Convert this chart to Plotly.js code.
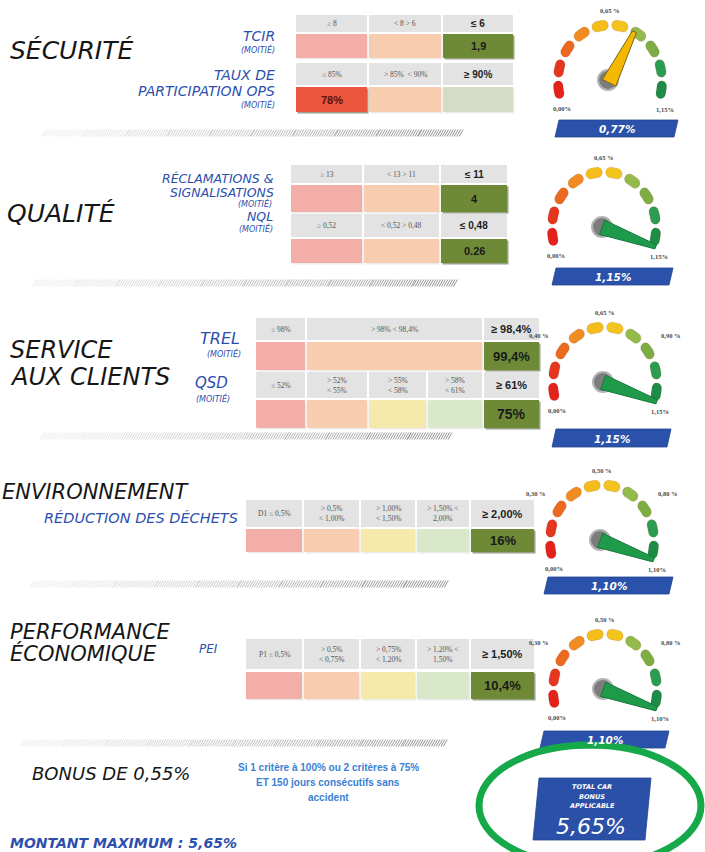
<!DOCTYPE html>
<html><head><meta charset="utf-8">
<script src="https://cdn.plot.ly/plotly-3.0.1.min.js"></script>
<style>html,body{margin:0;padding:0;background:#fff;overflow:hidden}</style>
</head><body><div id="chart" style="width:705px;height:852px"></div>
<script>
// ================= DATA =================
const sectionTitles = ['SÉCURITÉ', 'QUALITÉ', 'SERVICE', 'AUX CLIENTS', 'ENVIRONNEMENT', 'PERFORMANCE', 'ÉCONOMIQUE'];
const criteriaNames = ['TCIR', 'TAUX DE', 'PARTICIPATION OPS', 'RÉCLAMATIONS &', 'SIGNALISATIONS', 'NQL', 'TREL', 'QSD', 'RÉDUCTION DES DÉCHETS', 'PEI'];
const halfWeightLabel = '(MOITIÉ)';

const tcirBands = ['≥ 8', '< 8 > 6', '≤ 6'];
const tcirResult = '1,9'; const tcirTier = 2;
const tauxBands = ['≤ 85%', '> 85%  < 90%', '≥ 90%'];
const tauxResult = '78%'; const tauxTier = 0;
const reclamBands = ['≥ 13', '< 13 > 11', '≤ 11'];
const reclamResult = '4'; const reclamTier = 2;
const nqlBands = ['≥ 0,52', '< 0,52 > 0,48', '≤ 0,48'];
const nqlResult = '0.26'; const nqlTier = 2;
const trelBands = ['≤ 98%', '> 98% < 98,4%', '≥ 98,4%'];
const trelResult = '99,4%'; const trelTier = 2;
const qsdBands = ['≤ 52%', '> 52%<br>< 55%', '> 55%<br>< 58%', '> 58%<br>< 61%', '≥ 61%'];
const qsdResult = '75%'; const qsdTier = 4;
const dechetsBands = ['D1 ≤ 0,5%', '> 0,5%<br>< 1,00%', '> 1,00%<br>< 1,50%', '> 1,50% <<br>2,00%', '≥ 2,00%'];
const dechetsResult = '16%'; const dechetsTier = 4;
const peiBands = ['P1 ≤ 0,5%', '> 0,5%<br>< 0,75%', '> 0,75%<br>< 1,20%', '> 1,20% <<br>1,50%', '≥ 1,50%'];
const peiResult = '10,4%'; const peiTier = 4;

const gaugeValues = [0.77, 1.15, 1.15, 1.10, 1.10];
const gaugeValueLabels = ['0,77%', '1,15%', '1,15%', '1,10%', '1,10%'];
const gaugeScaleSteps = [[0, 0.65, 1.15], [0, 0.65, 1.15], [0, 0.40, 0.65, 0.90, 1.15], [0, 0.30, 0.50, 0.80, 1.10], [0, 0.30, 0.50, 0.80, 1.10]];
const gaugeScaleLabels = [
  ['0,00%', '0,65 %', '1,15%'],
  ['0,00%', '0,65 %', '1,15%'],
  ['0,00%', '0,40 %', '0,65 %', '0,90 %', '1,15%'],
  ['0,00%', '0,30 %', '0,50 %', '0,80 %', '1,10%'],
  ['0,00%', '0,30 %', '0,50 %', '0,80 %', '1,10%']
];

const bonusTitle = 'BONUS DE 0,55%';
const bonusRule = ['Si 1 critère à 100% ou 2 critères à 75%', 'ET 150 jours consécutifs sans', 'accident'];
const maxAmountLabel = 'MONTANT MAXIMUM : 5,65%';
const totalLabel = ['TOTAL CAR', 'BONUS', 'APPLICABLE'];
const totalValue = '5,65%';

// ================= LAYOUT / STYLE =================
const BLUE = '#2c4fae';
const TITLE_FONT = 'DejaVu Sans';
const shapes = [], annotations = [], traces = [];

function txt(x, y, text, o) {
  o = o || {};
  annotations.push({
    x: x, y: y, xref: 'x', yref: 'y', text: text, showarrow: false,
    xanchor: o.anchor || 'center', yanchor: 'middle', align: o.align || 'center',
    font: { family: o.family || 'Liberation Sans', size: o.size || 10, color: o.color || '#222',
            style: o.italic ? 'italic' : 'normal', weight: o.bold ? 'bold' : 'normal' }
  });
}
function rect(x0, y0, x1, y1, fill) {
  shapes.push({ type: 'rect', xref: 'x', yref: 'y', x0: x0, x1: x1, y0: y0, y1: y1, fillcolor: fill, line: { width: 0 } });
}
function poly(pts, fill, line, lw) {
  let d = 'M' + pts.map(p => p[0].toFixed(2) + ',' + p[1].toFixed(2)).join('L') + 'Z';
  shapes.push({ type: 'path', xref: 'x', yref: 'y', path: d, fillcolor: fill, line: { width: lw || 0, color: line || fill } });
}

// ----- Section titles -----
const titlePos = [[8, 50, 25], [5, 213, 25], [8, 350, 24], [8, 377, 24], [0, 492, 21], [8, 632, 21], [8, 653, 21]];
sectionTitles.forEach((t, i) => txt(titlePos[i][0], titlePos[i][1], t, { anchor: 'left', size: titlePos[i][2], italic: true, family: TITLE_FONT, color: '#161616' }));

// ----- Criteria labels -----
const critPos = [[277, 36, 14, 'right'], [277, 75, 14, 'right'], [277, 90.5, 14, 'right'], [276, 178.5, 12.5, 'right'],
  [276, 192, 12.5, 'right'], [275, 216, 12.5, 'right'], [242, 338, 16, 'right'], [230, 383, 15, 'right'],
  [240, 518, 14.5, 'right'], [197, 649, 12, 'left']];
criteriaNames.forEach((t, i) => txt(critPos[i][0], critPos[i][1], t, { anchor: critPos[i][3], size: critPos[i][2], italic: true, family: TITLE_FONT, color: BLUE }));
const halfPos = [[277, 49], [277, 104], [274, 203], [275, 228], [243, 353], [232, 398]];
halfPos.forEach(p => txt(p[0], p[1], halfWeightLabel, { anchor: 'right', size: 8, italic: true, family: TITLE_FONT, color: BLUE }));

// ----- Tables -----
const tables = [
  { bands: tcirBands, result: tcirResult, tier: tcirTier, xs: [295, 368, 442, 514], head: [15, 32], data: [34, 58], rs: 11, hs: 10 },
  { bands: tauxBands, result: tauxResult, tier: tauxTier, xs: [295, 368, 442, 514], head: [63, 85], data: [87, 112], rs: 11, hs: 10 },
  { bands: reclamBands, result: reclamResult, tier: reclamTier, xs: [290, 363, 440, 508], head: [165, 183], data: [185, 212], rs: 11, hs: 10 },
  { bands: nqlBands, result: nqlResult, tier: nqlTier, xs: [290, 363, 440, 508], head: [214, 237], data: [239, 263], rs: 11, hs: 10 },
  { bands: trelBands, result: trelResult, tier: trelTier, xs: [255, 306, 483, 540], head: [318, 340], data: [342, 370], rs: 13, hs: 11 },
  { bands: qsdBands, result: qsdResult, tier: qsdTier, xs: [255, 306, 368, 427, 483, 540], head: [372, 398], data: [400, 428], rs: 14, hs: 11 },
  { bands: dechetsBands, result: dechetsResult, tier: dechetsTier, xs: [245, 303, 360, 416, 470, 535], head: [500, 527], data: [529, 552], rs: 13, hs: 11 },
  { bands: peiBands, result: peiResult, tier: peiTier, xs: [245, 303, 360, 416, 470, 535], head: [639, 669], data: [672, 699], rs: 13, hs: 11 }
];
const light3 = ['#f4aea8', '#f8cdaf', '#d5dcc6'];
const light5 = ['#f4aea8', '#f8cdaf', '#f5e9ab', '#d8e8c8', '#d5dcc6'];
tables.forEach(tb => {
  const n = tb.bands.length;
  const light = n === 3 ? light3 : light5;
  for (let i = 0; i < n; i++) {
    const x0 = tb.xs[i] + 1, x1 = tb.xs[i + 1] - 1;
    rect(x0, tb.head[0], x1, tb.head[1], '#e3e3e3');
    const last = i === n - 1;
    if (last) txt((x0 + x1) / 2, (tb.head[0] + tb.head[1]) / 2, tb.bands[i], { size: tb.hs, bold: true, color: '#1e1e1e', family: 'Liberation Sans' });
    else txt((x0 + x1) / 2, (tb.head[0] + tb.head[1]) / 2, tb.bands[i], { size: 7.5, color: '#555', family: 'Liberation Serif' });
    let fill = light[i];
    const achieved = i === tb.tier;
    if (achieved) fill = (i === 0) ? '#ec553e' : '#6f8a36';
    rect(x0 + 1.5, tb.data[0] + 1.5, x1 + 1.5, tb.data[1] + 1.5, achieved ? '#9aa08a' : '#ececec');
    rect(x0, tb.data[0], x1, tb.data[1], fill);
    if (achieved) txt((x0 + x1) / 2, (tb.data[0] + tb.data[1]) / 2, tb.result, { size: tb.rs, bold: true, color: i === 0 ? '#5a120a' : '#1a1a1a' });
  }
});

// ----- Hatch bands -----
const hatchBands = [[42, 460, 133], [32, 455, 283], [40, 448, 436], [30, 445, 584], [20, 445, 743]];
const hatchGroups = 10;
hatchBands.forEach(hb => {
  const [x0, x1, yc] = hb;
  const span = x1 - x0;
  for (let g = 0; g < hatchGroups; g++) {
    const xs = [], ys = [];
    const gs = x0 + span * g / hatchGroups, ge = x0 + span * (g + 1) / hatchGroups;
    for (let x = gs; x < ge; x += 2.4) { xs.push(x, x + 4, null); ys.push(yc + 3.5, yc - 3.5, null); }
    const t = (g + 1) / hatchGroups;
    const c = Math.round(240 - 105 * Math.pow(t, 1.2));
    traces.push({ type: 'scatter', mode: 'lines', x: xs, y: ys, line: { color: `rgb(${c},${c},${c})`, width: 0.9 }, hoverinfo: 'skip' });
  }
});

// ----- Gauges -----
const gaugeCenters = [[610, 81], [604, 228], [605, 383], [602, 541], [605, 690]];
const gaugeBoxes = [[556, 677, 120, 137], [553, 672, 268, 285], [553, 670, 429, 447], [545, 672, 577, 594], [541, 668, 731, 748]];
const RX = 52, RY = 56, R = 54, HALF = 5;
const segColors = ['#e3221c', '#e5361f', '#ec6a1f', '#f08c21', '#f5bd1b', '#f3c41d', '#93ba4a', '#7dae43', '#2c9d50', '#1c8c46'];
const A0 = 200, A1 = -20;
const rad = a => a * Math.PI / 180;

function pill(cx, cy, a1, a2) {
  const pts = [], N = 8, M = 8;
  const toS = (px, py) => [cx + px * RX / R, cy - py * RY / R];
  for (let i = 0; i <= N; i++) { const a = rad(a1 + (a2 - a1) * i / N); pts.push(toS((R + HALF) * Math.cos(a), (R + HALF) * Math.sin(a))); }
  let u = [Math.cos(rad(a2)), Math.sin(rad(a2))], t = [Math.sin(rad(a2)), -Math.cos(rad(a2))];
  for (let j = 1; j < M; j++) { const f = Math.PI * j / M; pts.push(toS(R * u[0] + HALF * (Math.cos(f) * u[0] + Math.sin(f) * t[0]), R * u[1] + HALF * (Math.cos(f) * u[1] + Math.sin(f) * t[1]))); }
  for (let i = 0; i <= N; i++) { const a = rad(a2 + (a1 - a2) * i / N); pts.push(toS((R - HALF) * Math.cos(a), (R - HALF) * Math.sin(a))); }
  u = [Math.cos(rad(a1)), Math.sin(rad(a1))]; t = [-Math.sin(rad(a1)), Math.cos(rad(a1))];
  for (let j = 1; j < M; j++) { const f = Math.PI * j / M; pts.push(toS(R * u[0] + HALF * (-Math.cos(f) * u[0] + Math.sin(f) * t[0]), R * u[1] + HALF * (-Math.cos(f) * u[1] + Math.sin(f) * t[1]))); }
  return pts;
}
function valueToAngle(v, steps) {
  const n = steps.length - 1;
  for (let i = 0; i < n; i++) {
    if (v <= steps[i + 1] || i === n - 1) {
      const f = (v - steps[i]) / (steps[i + 1] - steps[i]);
      return A0 + (A1 - A0) * (i + f) / n;
    }
  }
}
gaugeValues.forEach((v, gi) => {
  const [cx, cy] = gaugeCenters[gi];
  const pitch = (A0 - A1) / 10;
  for (let s = 0; s < 10; s++) {
    const c = A0 - pitch / 2 - pitch * s;
    poly(pill(cx, cy, c + 3.8, c - 3.8), segColors[s], 'rgba(120,40,20,0.25)', 0.6);
  }
  // scale labels
  const steps = gaugeScaleSteps[gi], labs = gaugeScaleLabels[gi];
  const n = steps.length - 1;
  labs.forEach((l, k) => {
    let x, y;
    if (k === 0) { x = cx - 48; y = cy + 27; }
    else if (k === n) { x = cx + 55; y = cy + 28; }
    else {
      const a = rad(A0 + (A1 - A0) * k / n);
      x = cx + 80 * Math.cos(a);
      y = cy - 71 * Math.pow(Math.sin(a), 0.74);
    }
    txt(x, y, l, { size: 6.5, bold: true, color: '#4a4a4a', family: 'Liberation Serif' });
  });
  // hub
  shapes.push({ type: 'circle', xref: 'x', yref: 'y', x0: cx - 12, x1: cx + 8, y0: cy - 11, y1: cy + 9, fillcolor: '#7c7c7c', line: { color: '#b4b4b4', width: 2 } });
  // needle
  const ang = rad(valueToAngle(v, steps));
  const d = [Math.cos(ang), -Math.sin(ang)], nn = [Math.sin(ang), Math.cos(ang)];
  const L = 55, wb = 7.5, wt = 2.2;
  const tip = [cx + L * d[0], cy + L * d[1]];
  const ncol = gi === 0 ? '#f5b800' : '#1f9a4b';
  const nline = gi === 0 ? '#7a6422' : '#177a3b';
  poly([[cx + wb * nn[0] - 2 * d[0], cy + wb * nn[1] - 2 * d[1]], [tip[0] + wt * nn[0], tip[1] + wt * nn[1]], [tip[0] - wt * nn[0], tip[1] - wt * nn[1]], [cx - wb * nn[0] - 2 * d[0], cy - wb * nn[1] - 2 * d[1]]], ncol, nline, 1);
  // value box
  const [bx0, bx1, by0, by1] = gaugeBoxes[gi];
  poly([[bx0 + 3, by0], [bx1 + 1, by0], [bx1 - 3, by1], [bx0 - 1, by1]], '#2b52aa', '#24458f', 0.8);
  txt((bx0 + bx1) / 2, (by0 + by1) / 2 + 0.5, gaugeValueLabels[gi], { size: 10.5, bold: true, italic: true, color: '#ffffff', family: TITLE_FONT });
});

// ----- Bonus & total -----
txt(30, 773, bonusTitle, { anchor: 'left', size: 18, italic: true, family: TITLE_FONT, color: '#161616' });
bonusRule.forEach((l, i) => txt(328, 767 + 15 * i, l, { size: 10, bold: true, color: '#3a80d4', family: 'Liberation Sans' }));
txt(8, 843, maxAmountLabel, { anchor: 'left', size: 14, bold: true, italic: true, family: TITLE_FONT, color: BLUE });
poly([[539, 778], [651, 778], [645, 840], [533, 840]], '#2a50a8', '#24458f', 0.8);
totalLabel.forEach((l, i) => txt(592, 787 + 9.5 * i, l, { size: 6.5, bold: true, italic: true, color: '#ffffff', family: TITLE_FONT }));
txt(591, 826, totalValue, { size: 22, italic: true, color: '#ffffff', family: TITLE_FONT });
shapes.push({ type: 'circle', xref: 'x', yref: 'y', x0: 479, x1: 701, y0: 745, y1: 866, fillcolor: 'rgba(0,0,0,0)', line: { color: '#16a94a', width: 7 } });

const layout = {
  width: 705, height: 852, margin: { l: 0, r: 0, t: 0, b: 0 },
  paper_bgcolor: '#ffffff', plot_bgcolor: '#ffffff', showlegend: false,
  xaxis: { range: [0, 705], visible: false, fixedrange: true },
  yaxis: { range: [852, 0], visible: false, fixedrange: true },
  shapes: shapes, annotations: annotations
};
Plotly.newPlot('chart', traces, layout, { staticPlot: true, displayModeBar: false });
</script></body></html>
